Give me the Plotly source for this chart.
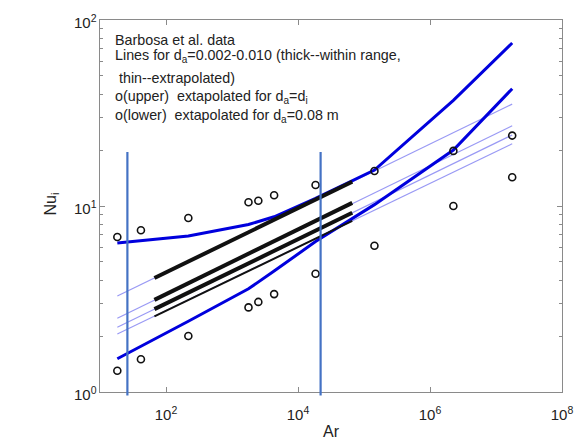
import numpy as np
import plotly.graph_objects as go

# Barbosa et al. measurements (Archimedes number vs. interfacial Nusselt number)
ar_data = [18.3, 41.7, 218, 1778, 2506, 4348, 18450, 1.44e5, 2.26e6, 1.76e7]
nu_upper = [6.81, 7.40, 8.62, 10.47, 10.68, 11.42, 12.98, 15.43, 19.78, 23.91]
nu_lower = [1.30, 1.50, 2.00, 2.85, 3.05, 3.36, 4.32, 6.11, 10.0, 14.27]

# model curves evaluated at the measured Ar values
curve_upper = [6.32, 6.51, 6.90, 7.95, 8.25, 8.75, 11.0, 15.6, 37.0, 75.2]   # d_a = d_i
curve_lower = [1.51, 1.76, 2.40, 3.59, 3.90, 4.47, 6.44, 10.17, 20.0, 42.7]  # d_a = 0.08 m

# correlations for d_a = 0.002-0.010: extrapolated (thin) over the full Ar span
ar_span = [18.3, 1.76e7]
thin_lines = [
    [3.28, 35.3],
    [2.49, 27.0],
    [2.23, 24.1],
    [2.05, 21.6],
]
# ... and within the measured range (thick)
ar_range = [66.8, 6.64e4]
thick_lines = [
    [4.10, 13.5],
    [3.13, 10.4],
    [2.79, 9.19],
    [2.55, 8.31],
]
thick_widths = [4, 4, 4, 2]

# marker lines bounding the Ar range of interest
vline_ar = [26, 2.2e4]

# axis ranges (log10) and tick labels
x_range = [1, 8]
y_range = [0, 2]
x_ticks = [1e2, 1e4, 1e6, 1e8]
x_ticktext = ["10<sup>2</sup>", "10<sup>4</sup>", "10<sup>6</sup>", "10<sup>8</sup>"]
y_ticks = [1, 10, 100]
y_ticktext = ["10<sup>0</sup>", "10<sup>1</sup>", "10<sup>2</sup>"]
y_minor = [2, 3, 4, 5, 6, 7, 8, 9, 20, 30, 40, 50, 60, 70, 80, 90]

W, H = 585, 443
ML, MR, MT, MB = 100, 18, 20, 51
PW = W - ML - MR
PH = H - MT - MB

FONT = "Liberation Sans, Arial, sans-serif"
THIN_BLUE = "rgba(70,70,235,0.55)"
BLUE = "#0000dd"
BLACK = "#111111"
AXIS = "#8a8a8a"
TEXT = "#222222"

fig = go.Figure()

for ys in thin_lines:
    fig.add_trace(go.Scatter(x=ar_span, y=ys, mode="lines",
                             line=dict(color=THIN_BLUE, width=1.2), hoverinfo="skip"))

for ys in (curve_upper, curve_lower):
    fig.add_trace(go.Scatter(x=ar_data, y=ys, mode="lines",
                             line=dict(color=BLUE, width=3), hoverinfo="skip"))

for ys, w in zip(thick_lines, thick_widths):
    fig.add_trace(go.Scatter(x=ar_range, y=ys, mode="lines",
                             line=dict(color=BLACK, width=w), hoverinfo="skip"))

for ys in (nu_upper, nu_lower):
    fig.add_trace(go.Scatter(x=ar_data, y=ys, mode="markers",
                             marker=dict(symbol="circle-open", size=7, color=BLACK,
                                         line=dict(width=1.6, color=BLACK))))


def py_to_paper(py):
    return (H - MB - py) / PH


def px_to_paper(px):
    return (px - ML) / PW


# vertical range markers (paper coords so they can overrun the x axis)
for a in vline_ar:
    xp = (np.log10(a) - x_range[0]) / (x_range[1] - x_range[0])
    fig.add_shape(type="line", xref="paper", yref="paper",
                  x0=xp, x1=xp, y0=py_to_paper(395.5), y1=py_to_paper(152),
                  line=dict(color="#4472c4", width=2.2), layer="above")

# text block
text_lines = [
    ("Barbosa et al. data", 40.5),
    ("Lines for d<sub>a</sub>=0.002-0.010 (thick--within range,", 56),
    (" thin--extrapolated)", 78.5),
    ("o(upper)  extapolated for d<sub>a</sub>=d<sub>i</sub>", 97),
    ("o(lower)  extapolated for d<sub>a</sub>=0.08 m", 115.5),
]
for txt, py in text_lines:
    fig.add_annotation(text=txt, xref="paper", yref="paper",
                       x=px_to_paper(113), y=py_to_paper(py),
                       xanchor="left", yanchor="middle", showarrow=False,
                       font=dict(family=FONT, size=14.3, color=TEXT))

# y tick labels, set tight against the axis line
for v, t in zip(y_ticks, y_ticktext):
    yp = (np.log10(v) - y_range[0]) / (y_range[1] - y_range[0])
    fig.add_annotation(text=t, xref="paper", yref="paper", x=px_to_paper(99),
                       y=yp, xanchor="right", yanchor="middle", showarrow=False,
                       yshift=-1, font=dict(family=FONT, size=15, color=TEXT))

# axis titles
fig.add_annotation(text="Ar", xref="paper", yref="paper", x=0.5, y=py_to_paper(432),
                   xanchor="center", yanchor="middle", showarrow=False,
                   font=dict(family=FONT, size=16, color=TEXT))
fig.add_annotation(text="Nu<sub>i</sub>", xref="paper", yref="paper",
                   x=px_to_paper(50), y=py_to_paper(204), textangle=-90,
                   xanchor="center", yanchor="middle", showarrow=False,
                   font=dict(family=FONT, size=16, color=TEXT))

axis_common = dict(type="log", showgrid=False, zeroline=False, showline=True,
                   linecolor=AXIS, linewidth=1.3, mirror="ticks", ticks="inside",
                   ticklen=5, tickcolor=AXIS, tickwidth=1,
                   tickfont=dict(family=FONT, size=15, color=TEXT))

fig.update_xaxes(range=x_range, tickvals=x_ticks, ticktext=x_ticktext,
                 ticklabelstandoff=9, **axis_common)
fig.update_yaxes(range=y_range, tickvals=y_ticks, ticktext=y_ticktext,
                 showticklabels=False,
                 minor=dict(tickvals=y_minor, ticks="inside", ticklen=3,
                            tickcolor=AXIS, tickwidth=1),
                 **axis_common)

fig.update_layout(width=W, height=H, margin=dict(l=ML, r=MR, t=MT, b=MB),
                  paper_bgcolor="white", plot_bgcolor="white", showlegend=False,
                  font=dict(family=FONT, color=TEXT))

fig.write_html("out.html")
